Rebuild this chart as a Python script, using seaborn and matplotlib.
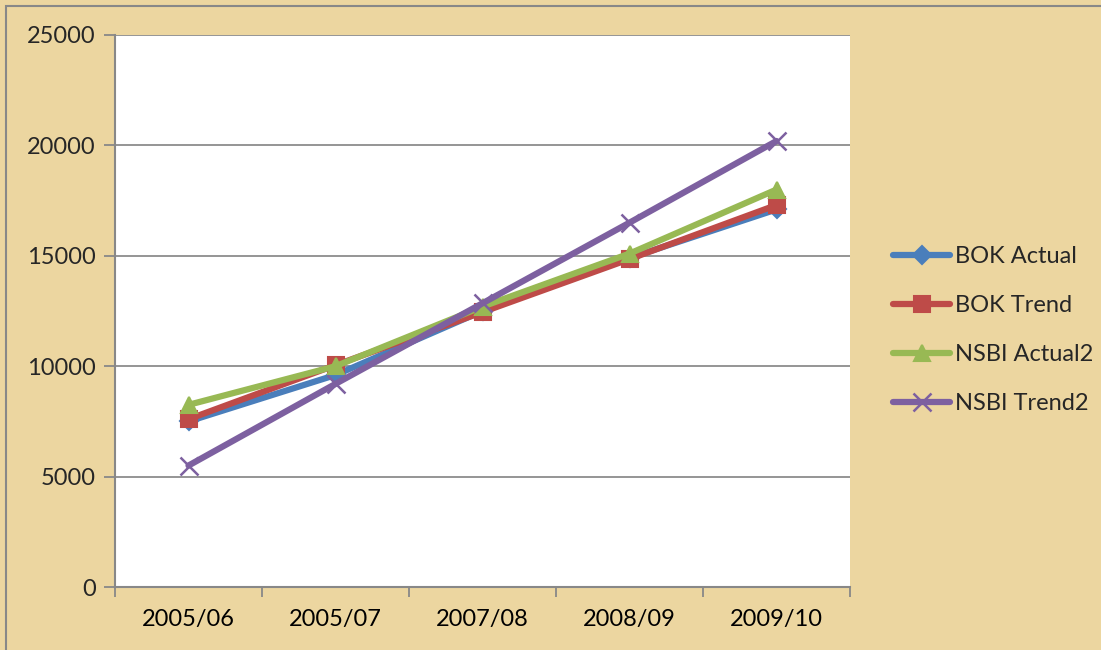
import matplotlib
matplotlib.use("Agg")
import matplotlib.pyplot as plt
import seaborn as sns
import pandas as pd
import numpy as np
from matplotlib.ticker import MultipleLocator, FixedLocator

categories = ["2005/06", "2005/07", "2007/08", "2008/09", "2009/10"]
bok_actual = [7500, 9600, 12500, 14900, 17100]
bok_trend = [7600, 10050, 12450, 14850, 17300]
nsbi_actual2 = [8250, 10000, 12700, 15100, 18000]
nsbi_trend2 = [5500, 9200, 12850, 16500, 20200]
series_names = ["BOK Actual", "BOK Trend", "NSBI Actual2", "NSBI Trend2"]

sns.set_theme(style="white")
plt.rcParams['font.family'] = ['Lato', 'DejaVu Sans']

rows = []
for name, vals in zip(series_names, [bok_actual, bok_trend, nsbi_actual2, nsbi_trend2]):
    for c, v in zip(categories, vals):
        rows.append({"period": c, "value": v, "series": name})
df = pd.DataFrame(rows)
df["pos"] = df["period"].map({c: i for i, c in enumerate(categories)})

bg = "#ECD6A0"
fig = plt.figure(figsize=(11.01, 6.5), dpi=100, facecolor=bg)
ax = fig.add_axes([115/1101, 1-587/650, (850-115)/1101, (587-35)/650])
ax.set_facecolor("white")

palette = {"BOK Actual": "#4A7EBB", "BOK Trend": "#BE4B48", "NSBI Actual2": "#98B954", "NSBI Trend2": "#7D60A0"}
markers = {"BOK Actual": "D", "BOK Trend": "s", "NSBI Actual2": "^", "NSBI Trend2": "x"}
msizes = {"BOK Actual": 9, "BOK Trend": 11, "NSBI Actual2": 12, "NSBI Trend2": 13}

for name in series_names:
    sub = df[df.series == name]
    sns.lineplot(data=sub, x="pos", y="value", ax=ax, color=palette[name],
                 marker=markers[name], markersize=msizes[name],
                 markeredgecolor=palette[name], markeredgewidth=1.5 if name != "NSBI Trend2" else 1.8,
                 linewidth=4.5, label=name, zorder=3)

ax.set_xlim(-0.5, 4.5)
ax.set_ylim(0, 25000)
ax.yaxis.set_major_locator(MultipleLocator(5000))
ax.set_xticks(range(len(categories)))
ax.set_xticklabels(categories)
ax.xaxis.set_minor_locator(FixedLocator(np.arange(-0.5, 5.0, 1.0)))
ax.tick_params(axis="x", which="major", length=0, pad=16, labelsize=17, colors="black")
ax.tick_params(axis="x", which="minor", length=7, width=1.3, color="#888888", direction="out", bottom=True)
ax.tick_params(axis="y", which="major", length=8, width=1.3, color="#888888", direction="out", left=True, labelsize=17, pad=6)
ax.grid(axis="y", color="#8c8c8c", linewidth=1.3, zorder=0)
ax.set_axisbelow(True)
for s in ["top", "right"]:
    ax.spines[s].set_visible(False)
for s in ["left", "bottom"]:
    ax.spines[s].set_color("#888888")
    ax.spines[s].set_linewidth(1.5)
ax.set_xlabel("")
ax.set_ylabel("")

leg = ax.legend(loc="center left", bbox_to_anchor=(884/1101, 1-330/650), bbox_transform=fig.transFigure,
                frameon=False, fontsize=17, handlelength=2.4, handletextpad=0.2, labelspacing=1.19,
                borderaxespad=0)

# outer chart border
fig.patches.append(plt.Rectangle((6/1101, -0.01), 1.2, 1 - 6/650 + 0.01, transform=fig.transFigure,
                                 fill=False, edgecolor="#888888", linewidth=1.5))

fig.savefig("out.png", dpi=100, facecolor=bg)
